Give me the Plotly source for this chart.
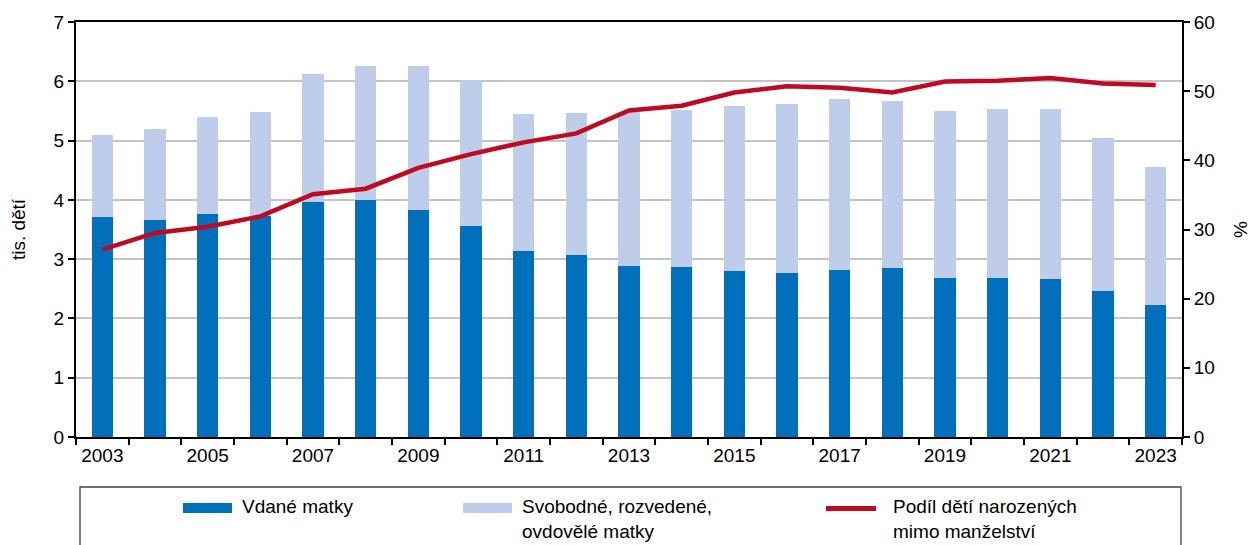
import plotly.graph_objects as go

years = list(range(2003, 2024))
married = [3.71, 3.66, 3.76, 3.73, 3.97, 4.00, 3.83, 3.56, 3.13, 3.07, 2.88,
           2.87, 2.80, 2.76, 2.82, 2.85, 2.68, 2.68, 2.66, 2.47, 2.23]
total = [5.09, 5.19, 5.40, 5.49, 6.12, 6.25, 6.26, 6.02, 5.44, 5.46, 5.49,
         5.52, 5.58, 5.61, 5.70, 5.67, 5.50, 5.53, 5.53, 5.05, 4.55]
unmarried = [round(t - m, 2) for t, m in zip(total, married)]
share = [27.1, 29.5, 30.4, 31.9, 35.1, 35.9, 38.9, 40.9, 42.6, 43.9, 47.2,
         47.9, 49.8, 50.7, 50.5, 49.8, 51.4, 51.5, 51.9, 51.1, 50.9]
label_years = list(range(2003, 2024, 2))

names = ["Vdané matky", "Svobodné, rozvedené,<br>ovdovělé matky",
         "Podíl dětí narozených<br>mimo manželství"]
c_dark = "#0070BD"
c_light = "#BDCDEA"
c_red = "#C00A22"

W, H = 1251, 545
L, R, T, B = 76, 1182, 22, 437
FONT = "Liberation Sans, Arial, sans-serif"
FS = 19


def px(x):
    return (x - L) / (R - L)


def py(y):
    return (B - y) / (B - T)


fig = go.Figure()
fig.add_trace(go.Bar(x=years, y=married, name=names[0], marker_color=c_dark,
                     marker_line_width=0, width=0.41, showlegend=False))
fig.add_trace(go.Bar(x=years, y=unmarried, name=names[1], marker_color=c_light,
                     marker_line_width=0, width=0.41, showlegend=False))
fig.add_trace(go.Scatter(x=years, y=share, name=names[2], yaxis="y2",
                         mode="lines", line=dict(color=c_red, width=4.5),
                         showlegend=False))

shapes = [
    dict(type="rect", xref="paper", yref="paper", x0=px(80), x1=px(1181),
         y0=py(487), y1=py(600), line=dict(color="#404040", width=1.3),
         fillcolor="rgba(0,0,0,0)"),
    dict(type="rect", xref="paper", yref="paper", x0=px(183), x1=px(232),
         y0=py(503), y1=py(513), line=dict(width=0), fillcolor=c_dark),
    dict(type="rect", xref="paper", yref="paper", x0=px(463), x1=px(512),
         y0=py(503), y1=py(513), line=dict(width=0), fillcolor=c_light),
    dict(type="line", xref="paper", yref="paper", x0=px(826), x1=px(876),
         y0=py(508.5), y1=py(508.5), line=dict(color=c_red, width=5)),
]
annotations = []
for xt, txt in [(241, names[0]), (521, names[1]), (892, names[2])]:
    annotations.append(dict(xref="paper", yref="paper", x=px(xt), y=py(495),
                            xanchor="left", yanchor="top", align="left",
                            text=txt, showarrow=False, borderpad=0,
                            font=dict(family=FONT, size=FS, color="#000")))

fig.update_layout(
    width=W, height=H, autosize=False,
    margin=dict(l=L, r=W - R, t=T, b=H - B, pad=0, autoexpand=False),
    barmode="stack", bargap=0,
    plot_bgcolor="white", paper_bgcolor="white",
    font=dict(family=FONT, size=FS, color="#000"),
    xaxis=dict(range=[2002.5, 2023.5], tickmode="array", tickvals=label_years,
               ticktext=[str(y) for y in label_years], ticks="",
               showgrid=False, showline=True, linecolor="#000", linewidth=2,
               mirror=True, zeroline=False, automargin=False,
               minor=dict(tick0=2002.5, dtick=1, ticks="outside", ticklen=6,
                          tickwidth=1.5, tickcolor="#000", showgrid=False),
               tickfont=dict(size=FS)),
    yaxis=dict(range=[0, 7], dtick=1, showgrid=True, gridcolor="#C4C4C4",
               gridwidth=1.5, showline=True, linecolor="#000", linewidth=2,
               ticks="outside", ticklen=6, tickwidth=1.5, tickcolor="#000",
               zeroline=False, automargin=False,
               title=dict(text="tis. dětí", standoff=23, font=dict(size=FS))),
    yaxis2=dict(range=[0, 60], dtick=10, overlaying="y", side="right",
                showgrid=False, showline=True, linecolor="#000", linewidth=2,
                ticks="outside", ticklen=6, tickwidth=1.5, tickcolor="#000",
                zeroline=False, automargin=False,
                title=dict(text="%", standoff=26, font=dict(size=FS))),
    shapes=shapes, annotations=annotations,
)

fig.write_html(
    "out.html",
    config={"displayModeBar": False},
    post_script="document.body.style.margin='0';"
                "document.body.style.overflow='hidden';",
)
